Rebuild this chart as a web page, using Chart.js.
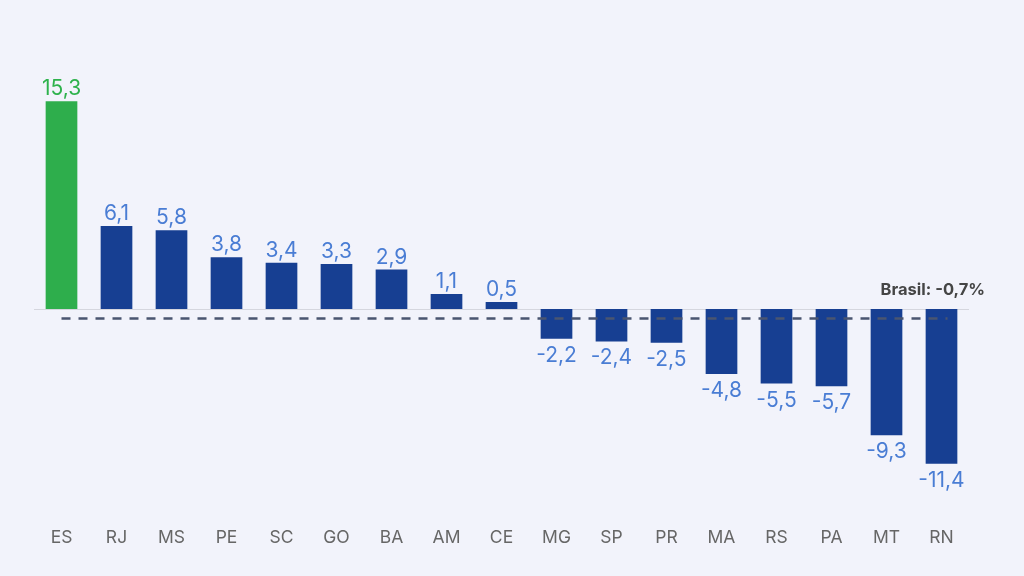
<!DOCTYPE html>
<html lang="pt-BR">
<head>
  <meta charset="UTF-8">
  <title>Variação por UF</title>
  <script src="https://cdn.jsdelivr.net/npm/chart.js"></script>
  <style>
    body {
      margin: 0;
      background-color: #f2f3fb;
      font-family: Inter, "Noto Sans", sans-serif;
    }
    .wrap {
      width: 1024px;
      height: 576px;
    }
  </style>
</head>
<body>
  <div class="wrap">
    <canvas id="chart" width="1024" height="576"></canvas>
  </div>

  <script>
    const states = ['ES', 'RJ', 'MS', 'PE', 'SC', 'GO', 'BA', 'AM', 'CE', 'MG', 'SP', 'PR', 'MA', 'RS', 'PA', 'MT', 'RN'];
    const changes = [15.3, 6.1, 5.8, 3.8, 3.4, 3.3, 2.9, 1.1, 0.5, -2.2, -2.4, -2.5, -4.8, -5.5, -5.7, -9.3, -11.4];
    const brasil = -0.7;

    const blue = '#173f92';
    const green = '#2eae4c';
    const labelBlue = '#4a7dd4';
    const labelGreen = '#2eb24c';

    const fmt = v => v.toFixed(1).replace('.', ',');

    // zero line, Brasil reference line and value labels
    const extras = {
      id: 'extras',
      beforeDatasetsDraw(chart) {
        const { ctx, chartArea, scales: { y } } = chart;
        const y0 = Math.round(y.getPixelForValue(0)) + 0.5;
        ctx.save();
        ctx.strokeStyle = '#d5d6de';
        ctx.lineWidth = 1;
        ctx.beginPath();
        ctx.moveTo(chartArea.left, y0);
        ctx.lineTo(chartArea.right, y0);
        ctx.stroke();
        ctx.restore();
      },
      afterDatasetsDraw(chart) {
        const { ctx, scales: { x, y } } = chart;
        const meta = chart.getDatasetMeta(0);
        ctx.save();

        // Brasil average
        const yb = y.getPixelForValue(brasil);
        ctx.strokeStyle = '#4a5570';
        ctx.lineWidth = 2.5;
        ctx.setLineDash([9, 8]);
        ctx.beginPath();
        ctx.moveTo(x.getPixelForValue(0), yb);
        ctx.lineTo(x.getPixelForValue(states.length - 1) + 6, yb);
        ctx.stroke();
        ctx.setLineDash([]);

        ctx.font = 'bold 16.5px Inter, "Noto Sans", sans-serif';
        ctx.fillStyle = '#454545';
        ctx.textAlign = 'right';
        ctx.textBaseline = 'alphabetic';
        ctx.fillText('Brasil: ' + fmt(brasil) + '%', 985, y.getPixelForValue(0) - 14);

        // value labels
        ctx.font = '21px Inter, "Noto Sans", sans-serif';
        ctx.textAlign = 'center';
        ctx.textBaseline = 'alphabetic';
        meta.data.forEach((bar, i) => {
          const v = changes[i];
          ctx.fillStyle = i === 0 ? labelGreen : labelBlue;
          if (v >= 0) {
            ctx.fillText(fmt(v), bar.x, bar.y - 6);
          } else {
            ctx.fillText(fmt(v), bar.x, bar.y + 23);
          }
        });
        ctx.restore();
      }
    };

    new Chart(document.getElementById('chart'), {
      type: 'bar',
      data: {
        labels: states,
        datasets: [{
          data: changes,
          backgroundColor: changes.map((v, i) => i === 0 ? green : blue),
          borderWidth: 0,
          barPercentage: 0.64,
          categoryPercentage: 0.9
        }]
      },
      options: {
        responsive: false,
        animation: false,
        layout: {
          padding: { left: 34, right: 55, top: 64.5, bottom: 8 }
        },
        plugins: {
          legend: { display: false },
          tooltip: { enabled: false }
        },
        scales: {
          x: {
            grid: { display: false },
            border: { display: false },
            ticks: {
              color: '#666666',
              padding: 20,
              font: { family: 'Inter, "Noto Sans", sans-serif', size: 17.5 }
            }
          },
          y: {
            display: false,
            min: -14,
            max: 18
          }
        }
      },
      plugins: [extras]
    });
  </script>
</body>
</html>
